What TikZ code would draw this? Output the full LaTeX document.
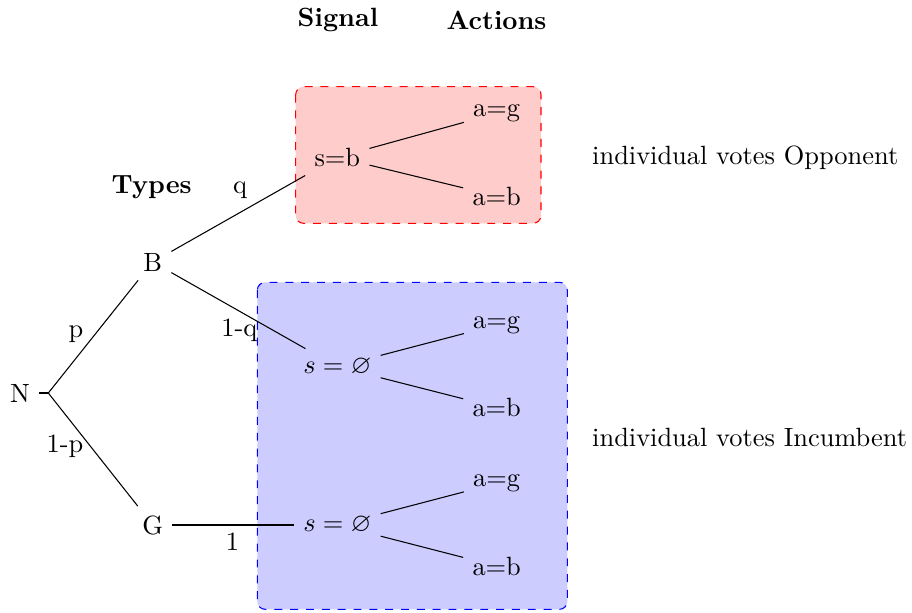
\documentclass[tikz,border=0pt]{standalone}
\usepackage{amssymb}
\begin{document}
\begin{tikzpicture}[x=0.3788pt,y=-0.3788pt,
  box/.style={dashed,rounded corners=3pt},
  lbl/.style={inner sep=0pt},
  hdr/.style={font=\bfseries,inner sep=0pt}]
\useasboundingbox (0,0) rectangle (912,612);
% boxes
\draw[box,draw=red,fill=red!20] (295.7,86.7) rectangle (541,223.3);
\draw[box,draw=blue,fill=blue!20] (257.3,282.3) rectangle (567.3,609.3);
% nodes
\node (N) at (20,393) {N};
\node (B) at (152.7,262) {B};
\node (G) at (152.7,525) {G};
\node (sb) at (337.3,157.3) {s=b};
\node (s1) at (337.3,366.7) {$s=\varnothing$};
\node (s2) at (337.3,525) {$s=\varnothing$};
\node (ag0) at (496.7,113.3) {a=g};
\node (ab0) at (496.7,196) {a=b};
\node (ag1) at (496.7,325) {a=g};
\node (ab1) at (496.7,407.3) {a=b};
\node (ag2) at (496.7,483.3) {a=g};
\node (ab2) at (496.7,566) {a=b};
\coordinate (n0) at (48.3,393);
% edges
\draw (N.east) -- (n0);
\draw (n0) -- (B);
\draw (n0) -- (G);
\draw (B) -- (sb);
\draw (B) -- (s1);
\draw (G) -- (s2);
\draw (sb) -- (ag0);
\draw (sb) -- (ab0);
\draw (s1) -- (ag1);
\draw (s1) -- (ab1);
\draw (s2) -- (ag2);
\draw (s2) -- (ab2);
% edge labels
\node[lbl] (lp) at (76,334) {p};
\node[lbl] (l1p) at (65,446.7) {1-p};
\node[lbl] (lq) at (240,190) {q};
\node[lbl] (l1q) at (239.3,330) {1-q};
\node[lbl] (l1) at (232.5,542) {1};
% headers
\node[hdr] (types) at (151.7,187) {Types};
\node[hdr] (signal) at (338,20) {Signal};
\node[hdr] (actions) at (496.5,20) {Actions};
% side texts
\node[lbl,anchor=west] (opp) at (591.7,158) {individual votes Opponent};
\node[lbl,anchor=west] (inc) at (591.7,437) {individual votes Incumbent};
\end{tikzpicture}
\end{document}
